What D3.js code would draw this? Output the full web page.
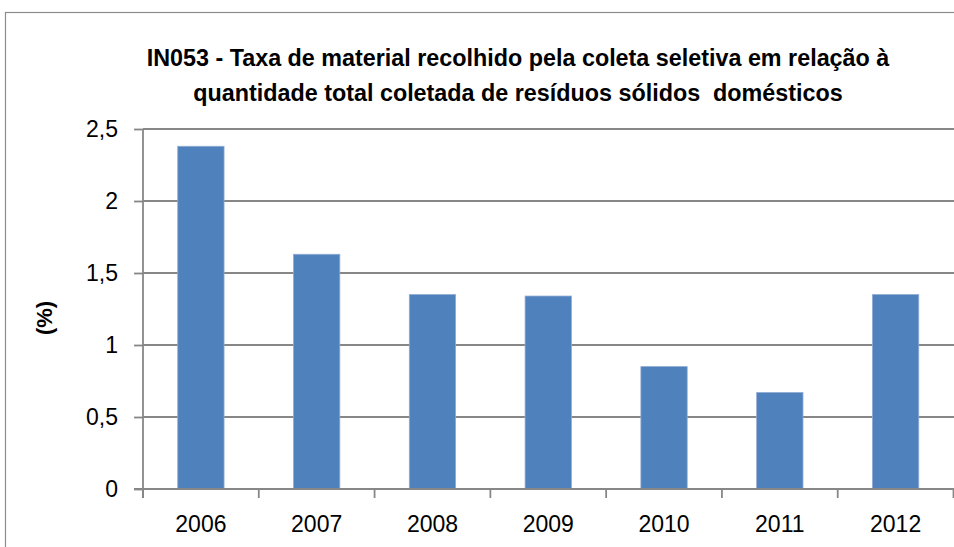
<!DOCTYPE html>
<html>
<head>
<meta charset="utf-8">
<script src="https://cdn.jsdelivr.net/npm/d3@7/dist/d3.min.js"></script>
<style>
  html, body { margin: 0; padding: 0; background: #fff; }
  svg { display: block; }
</style>
</head>
<body>
<svg id="chart" width="954" height="547"></svg>
<script>
// ---- data ----
const categories = ["2006", "2007", "2008", "2009", "2010", "2011", "2012"];
const values = [2.38, 1.63, 1.35, 1.34, 0.85, 0.67, 1.35];
const yTicks = [0, 0.5, 1, 1.5, 2, 2.5];
const titleLines = [
  "IN053 - Taxa de material recolhido pela coleta seletiva em relação à",
  "quantidade total coletada de resíduos sólidos  domésticos"
];
const yAxisLabel = "(%)";

// ---- layout ----
const W = 954, H = 547;
const plot = { left: 143, right: 953.5, top: 129, bottom: 489 };
const font = "'Liberation Sans', Arial, sans-serif";
const gridColor = "#878787";

const svg = d3.select("#chart");

// chart border (box extends past the visible crop)
svg.append("rect")
  .attr("x", 5.5).attr("y", 12.5)
  .attr("width", 1200).attr("height", 700)
  .attr("fill", "#fff")
  .attr("stroke", "#8c8c8c").attr("stroke-width", 1.2);

const x = d3.scaleBand().domain(categories)
  .range([plot.left, plot.right]).paddingInner(0.6).paddingOuter(0.3);
const y = d3.scaleLinear().domain([0, 2.5]).range([plot.bottom, plot.top]);

// gridlines
svg.append("g").selectAll("line").data(yTicks.filter(d => d > 0)).join("line")
  .attr("x1", plot.left).attr("x2", plot.right + 2)
  .attr("y1", d => y(d)).attr("y2", d => y(d))
  .attr("stroke", gridColor).attr("stroke-width", 1.8);

// bars
svg.append("g").selectAll("rect").data(values).join("rect")
  .attr("x", (d, i) => x(categories[i]))
  .attr("width", x.bandwidth())
  .attr("y", d => y(d))
  .attr("height", d => y(0) - y(d))
  .attr("fill", "#4F81BD")
  .attr("stroke", "#8eabd3").attr("stroke-width", 0.8);

// y axis
const yAxis = d3.axisLeft(y).tickValues(yTicks).tickSize(9).tickPadding(16)
  .tickFormat(d => d3.format("")(d).replace(".", ","));
const gy = svg.append("g").attr("transform", `translate(${plot.left},0)`).call(yAxis);
gy.select(".domain").remove();
gy.selectAll(".tick line").attr("stroke", gridColor).attr("stroke-width", 1.8);
gy.selectAll(".tick text").attr("font-family", font).attr("font-size", 23)
  .attr("fill", "#000");
svg.append("line")
  .attr("x1", plot.left).attr("x2", plot.left)
  .attr("y1", plot.top).attr("y2", plot.bottom + 9)
  .attr("stroke", gridColor).attr("stroke-width", 1.8);

// x axis
const xTickPos = d3.scaleLinear().domain([0, categories.length]).range([plot.left, plot.right]);
const gx = svg.append("g");
gx.append("line")
  .attr("x1", plot.left - 9).attr("x2", plot.right + 2)
  .attr("y1", plot.bottom).attr("y2", plot.bottom)
  .attr("stroke", gridColor).attr("stroke-width", 1.8);
gx.selectAll("line.tk").data(d3.range(categories.length + 1)).join("line")
  .attr("class", "tk")
  .attr("x1", d => xTickPos(d)).attr("x2", d => xTickPos(d))
  .attr("y1", plot.bottom).attr("y2", plot.bottom + 9)
  .attr("stroke", gridColor).attr("stroke-width", 1.8);
gx.selectAll("text").data(categories).join("text")
  .attr("x", d => x(d) + x.bandwidth() / 2)
  .attr("y", 532)
  .attr("text-anchor", "middle")
  .attr("font-family", font).attr("font-size", 23).attr("fill", "#000")
  .text(d => d);

// y axis title
svg.append("text")
  .attr("transform", "translate(52,318) rotate(-90)")
  .attr("text-anchor", "middle")
  .attr("font-family", font).attr("font-weight", "bold").attr("font-size", 22)
  .attr("fill", "#000")
  .text(yAxisLabel);

// title
const titleCenter = 518;
const tl = svg.append("g").selectAll("text").data(titleLines).join("text")
  .attr("x", titleCenter)
  .attr("y", (d, i) => 66 + i * 35)
  .attr("text-anchor", "middle")
  .style("white-space", "pre")
  .attr("font-family", font).attr("font-weight", "bold").attr("font-size", 20)
  .attr("fill", "#000")
  .text(d => d);
// fit first line width to ~743px
const w0 = tl.nodes()[0].getComputedTextLength();
const fs = 20 * 743 / w0;
tl.attr("font-size", fs);
</script>
</body>
</html>
